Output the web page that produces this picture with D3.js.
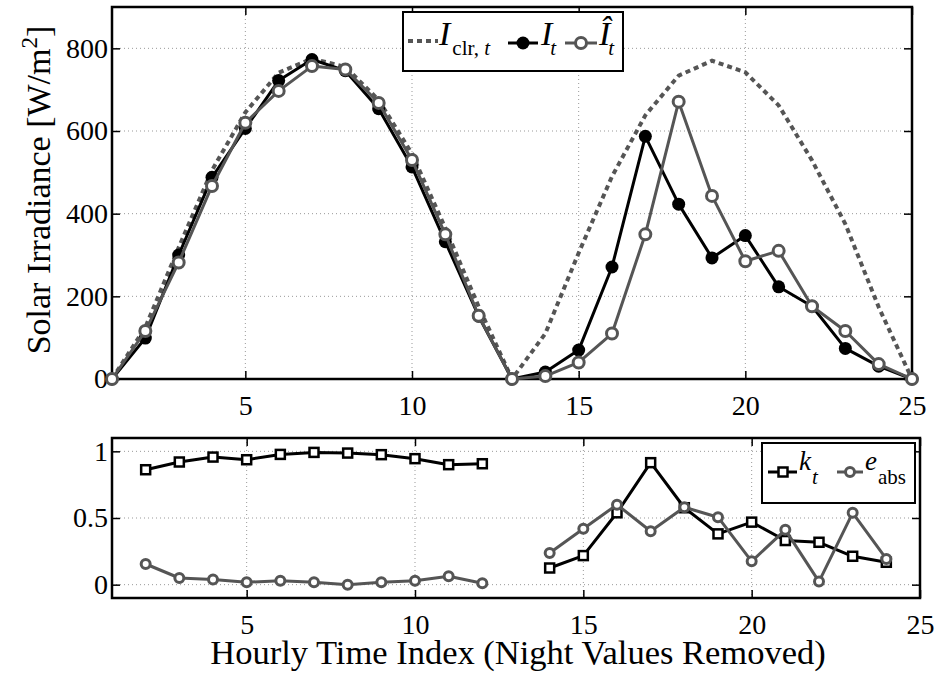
<!DOCTYPE html>
<html>
<head>
<meta charset="utf-8">
<script src="https://cdn.jsdelivr.net/npm/d3@7"></script>
<style>
body { margin: 0; background: #fff; }
svg text { font-family: "Liberation Serif", "Times New Roman", serif; fill: #000; }
</style>
</head>
<body>
<svg id="chart" width="938" height="673" font-family="Liberation Serif, serif"></svg>
<script>
// hourly index (night values removed)
const hours = [1, 2, 3, 4, 5, 6, 7, 8, 9, 10, 11, 12, 13, 14, 15, 16, 17, 18, 19, 20, 21, 22, 23, 24, 25];
const xTicks = [5, 10, 15, 20, 25];
const irrTicks = [0, 200, 400, 600, 800];
const ratioTicks = [0, 0.5, 1];

// top panel: irradiance, W/m^2
const clearSky = [0, 125, 318, 505, 645, 741, 775, 755, 675, 545, 365, 175, 0, 110, 305, 490, 638, 734, 770, 742, 662, 529, 375, 174, 0];
const measured = [0, 99, 300, 488, 606, 722, 773, 746, 654, 513, 332, 152, 0, 17, 70, 271, 587, 423, 293, 347, 223, 176, 74, 31, 0];
const forecast = [0, 116, 282, 467, 620, 697, 757, 749, 668, 530, 350, 153, 0, 7, 40, 110, 350, 671, 443, 285, 310, 176, 116, 36, 0];

// bottom panel: clearness index and absolute error (null = night)
const clearness = [null, 0.862, 0.92, 0.957, 0.937, 0.977, 0.992, 0.987, 0.975, 0.945, 0.9, 0.907, null,
    0.125, 0.218, 0.539, 0.915, 0.577, 0.381, 0.469, 0.331, 0.318, 0.213, 0.168, null];
const absError = [null, 0.155, 0.05, 0.038, 0.018, 0.03, 0.018, 0, 0.018, 0.03, 0.063, 0.01, null,
    0.238, 0.419, 0.6, 0.401, 0.581, 0.506, 0.175, 0.411, 0.023, 0.539, 0.193, null];

const GRAY = "#555";
const svg = d3.select("#chart");

function frame(g, x, y, yTicks, w, h) {
    // dotted grid
    g.append("g").selectAll("line").data(xTicks).join("line")
        .attr("x1", d => x(d)).attr("x2", d => x(d)).attr("y1", 0).attr("y2", h)
        .attr("stroke", "#999").attr("stroke-width", 1).attr("stroke-dasharray", "1,3");
    g.append("g").selectAll("line").data(yTicks).join("line")
        .attr("x1", 0).attr("x2", w).attr("y1", d => y(d)).attr("y2", d => y(d))
        .attr("stroke", "#999").attr("stroke-width", 1).attr("stroke-dasharray", "1,3");

    const axes = [
        g.append("g").attr("transform", `translate(0,${h})`)
            .call(d3.axisBottom(x).tickValues(xTicks).tickSizeInner(-8).tickSizeOuter(0).tickPadding(16)),
        g.append("g")
            .call(d3.axisTop(x).tickValues(xTicks).tickSizeInner(-8).tickSizeOuter(0).tickFormat("")),
        g.append("g")
            .call(d3.axisLeft(y).tickValues(yTicks).tickSizeInner(-8).tickSizeOuter(0).tickPadding(4)
                .tickFormat(d3.format("~g"))),
        g.append("g").attr("transform", `translate(${w},0)`)
            .call(d3.axisRight(y).tickValues(yTicks).tickSizeInner(-8).tickSizeOuter(0).tickFormat(""))
    ];
    axes.forEach(a => {
        a.attr("font-size", 28).attr("font-family", "Liberation Serif, serif");
        a.select(".domain").remove();
        a.selectAll(".tick line").attr("stroke", "#000").attr("stroke-width", 1.5);
    });

    g.append("rect").attr("width", w).attr("height", h)
        .attr("fill", "none").attr("stroke", "#000").attr("stroke-width", 2.5);
}

// ---------- top panel ----------
const topBox = { left: 112, top: 7, w: 800, h: 372 };
const gT = svg.append("g").attr("transform", `translate(${topBox.left},${topBox.top})`);
const xT = d3.scaleLinear().domain([1, 25]).range([0, topBox.w]);
const yT = d3.scaleLinear().domain([0, 900]).range([topBox.h, 0]);
frame(gT, xT, yT, irrTicks, topBox.w, topBox.h);

const lineT = v => d3.line().x((d, i) => xT(hours[i])).y(d => yT(d))(v);

gT.append("path").attr("d", lineT(clearSky))
    .attr("fill", "none").attr("stroke", GRAY).attr("stroke-width", 4).attr("stroke-dasharray", "5,4");

gT.append("path").attr("d", lineT(measured))
    .attr("fill", "none").attr("stroke", "#000").attr("stroke-width", 3).attr("stroke-linejoin", "round");
gT.append("g").selectAll("circle").data(measured).join("circle")
    .attr("cx", (d, i) => xT(hours[i])).attr("cy", d => yT(d)).attr("r", 6.5).attr("fill", "#000");

gT.append("path").attr("d", lineT(forecast))
    .attr("fill", "none").attr("stroke", GRAY).attr("stroke-width", 3).attr("stroke-linejoin", "round");
gT.append("g").selectAll("circle").data(forecast).join("circle")
    .attr("cx", (d, i) => xT(hours[i])).attr("cy", d => yT(d)).attr("r", 5.5)
    .attr("fill", "#fff").attr("stroke", GRAY).attr("stroke-width", 3);

// top legend
const lgT = svg.append("g");
lgT.append("rect").attr("x", 403).attr("y", 12).attr("width", 220).attr("height", 59)
    .attr("fill", "#fff").attr("stroke", "#000").attr("stroke-width", 2);
lgT.append("line").attr("x1", 408).attr("x2", 438).attr("y1", 41).attr("y2", 41)
    .attr("stroke", GRAY).attr("stroke-width", 4).attr("stroke-dasharray", "5,4");
const t1 = lgT.append("text").attr("x", 439).attr("y", 45).attr("font-size", 34);
t1.append("tspan").attr("font-style", "italic").text("I");
t1.append("tspan").attr("font-size", 21).attr("dy", 10).attr("dx", 2).text("clr, ");
t1.append("tspan").attr("font-size", 21).attr("font-style", "italic").text("t");

lgT.append("line").attr("x1", 508).attr("x2", 538).attr("y1", 43).attr("y2", 43)
    .attr("stroke", "#000").attr("stroke-width", 3);
lgT.append("circle").attr("cx", 523).attr("cy", 43).attr("r", 6.5).attr("fill", "#000");
const t2 = lgT.append("text").attr("x", 541).attr("y", 45).attr("font-size", 34);
t2.append("tspan").attr("font-style", "italic").text("I");
t2.append("tspan").attr("font-size", 21).attr("font-style", "italic").attr("dy", 10).attr("dx", -2).text("t");

lgT.append("line").attr("x1", 565).attr("x2", 597).attr("y1", 43).attr("y2", 43)
    .attr("stroke", GRAY).attr("stroke-width", 3);
lgT.append("circle").attr("cx", 581).attr("cy", 43).attr("r", 5.5)
    .attr("fill", "#fff").attr("stroke", GRAY).attr("stroke-width", 3);
const t3 = lgT.append("text").attr("x", 599).attr("y", 45).attr("font-size", 34);
t3.append("tspan").attr("font-style", "italic").text("Î");
t3.append("tspan").attr("font-size", 21).attr("font-style", "italic").attr("dy", 10).attr("dx", -2).text("t");

// y label
const yl = svg.append("text").attr("transform", "translate(50,190) rotate(-90)")
    .attr("text-anchor", "middle").attr("font-size", 34);
yl.append("tspan").text("Solar Irradiance [W/m");
yl.append("tspan").attr("font-size", 23).attr("dy", -13).text("2");
yl.append("tspan").attr("dy", 13).text("]");

// ---------- bottom panel ----------
const botBox = { left: 112, top: 438, w: 808, h: 160 };
const gB = svg.append("g").attr("transform", `translate(${botBox.left},${botBox.top})`);
const xB = d3.scaleLinear().domain([1, 25]).range([0, botBox.w]);
const yB = d3.scaleLinear().domain([-0.1, 1.1]).range([botBox.h, 0]);
frame(gB, xB, yB, ratioTicks, botBox.w, botBox.h);

const lineB = d3.line().defined(d => d != null).x((d, i) => xB(hours[i])).y(d => yB(d));
const pts = v => v.map((d, i) => ({ x: hours[i], v: d })).filter(p => p.v != null);

gB.append("path").attr("d", lineB(clearness))
    .attr("fill", "none").attr("stroke", "#000").attr("stroke-width", 3).attr("stroke-linejoin", "round");
gB.append("g").selectAll("rect").data(pts(clearness)).join("rect")
    .attr("x", d => xB(d.x) - 4.5).attr("y", d => yB(d.v) - 4.5).attr("width", 9).attr("height", 9)
    .attr("fill", "#fff").attr("stroke", "#000").attr("stroke-width", 2.5);

gB.append("path").attr("d", lineB(absError))
    .attr("fill", "none").attr("stroke", GRAY).attr("stroke-width", 3).attr("stroke-linejoin", "round");
gB.append("g").selectAll("circle").data(pts(absError)).join("circle")
    .attr("cx", d => xB(d.x)).attr("cy", d => yB(d.v)).attr("r", 4.5)
    .attr("fill", "#fff").attr("stroke", GRAY).attr("stroke-width", 3);

// bottom legend
const lgB = svg.append("g");
lgB.append("rect").attr("x", 762).attr("y", 443).attr("width", 153).attr("height", 60)
    .attr("fill", "#fff").attr("stroke", "#000").attr("stroke-width", 2);
lgB.append("line").attr("x1", 768).attr("x2", 797).attr("y1", 472).attr("y2", 472)
    .attr("stroke", "#000").attr("stroke-width", 3);
lgB.append("rect").attr("x", 778.5).attr("y", 467.5).attr("width", 9).attr("height", 9)
    .attr("fill", "#fff").attr("stroke", "#000").attr("stroke-width", 2.5);
const t4 = lgB.append("text").attr("x", 799).attr("y", 470).attr("font-size", 27);
t4.append("tspan").attr("font-style", "italic").text("k");
t4.append("tspan").attr("font-size", 21).attr("font-style", "italic").attr("dy", 14).attr("dx", 1).text("t");

lgB.append("line").attr("x1", 837).attr("x2", 863).attr("y1", 472).attr("y2", 472)
    .attr("stroke", GRAY).attr("stroke-width", 3);
lgB.append("circle").attr("cx", 850).attr("cy", 472).attr("r", 4.5)
    .attr("fill", "#fff").attr("stroke", GRAY).attr("stroke-width", 3);
const t5 = lgB.append("text").attr("x", 865).attr("y", 470).attr("font-size", 27);
t5.append("tspan").attr("font-style", "italic").text("e");
t5.append("tspan").attr("font-size", 21).attr("dy", 14).attr("dx", 1).text("abs");

// x label
svg.append("text").attr("x", 518).attr("y", 664).attr("text-anchor", "middle").attr("font-size", 34.5)
    .text("Hourly Time Index (Night Values Removed)");
</script>
</body>
</html>
